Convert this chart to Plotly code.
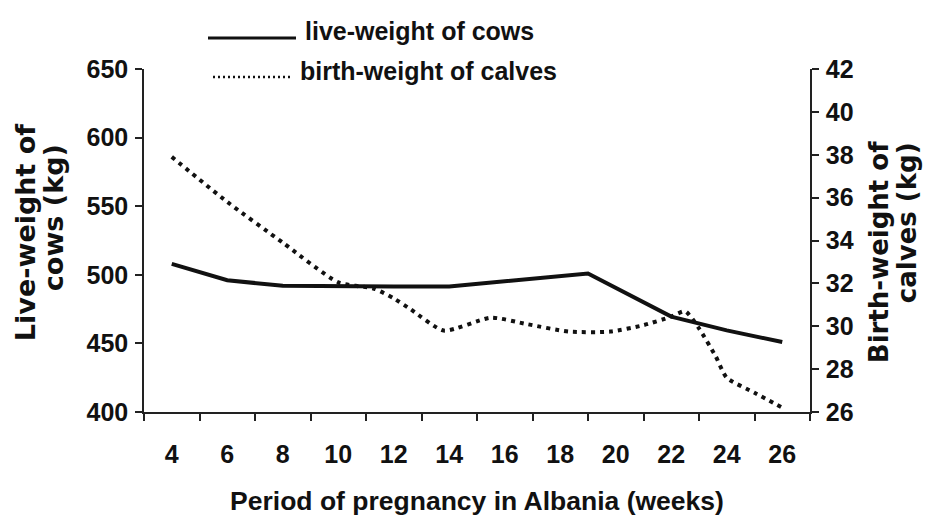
import plotly.graph_objects as go

# ---- data ----
cow_weeks = [4, 6, 8, 10, 12, 14, 16, 18, 19, 22, 24, 26]
cow_weight = [508, 496, 492, 491.5, 491.5, 491.5, 495.5, 499.5, 501, 469.5, 459.5, 451]

calf_weeks = [4, 6, 8, 10, 11.3, 12, 12.6, 13.8, 15.5, 16.8, 18.3, 19.8, 21, 22, 22.5, 23, 23.6, 24, 25, 26]
calf_weight = [37.9, 35.8, 33.9, 32.05, 31.75, 31.3, 30.8, 29.8, 30.4, 30.1, 29.75, 29.75, 30.05, 30.45, 30.7, 29.9, 28.6, 27.6, 26.9, 26.2]

x_tick_vals = [4, 6, 8, 10, 12, 14, 16, 18, 20, 22, 24, 26]
x_tick_text = [str(v) for v in x_tick_vals]
left_ticks = [400, 450, 500, 550, 600, 650]
right_ticks = [26, 28, 30, 32, 34, 36, 38, 40, 42]

FONT = "Liberation Sans, Arial, sans-serif"
TITLE_FONT = "DejaVu Sans, sans-serif"
INK = "#111111"

# plot area in page pixels (page has an 8px body margin)
PX0, PX1, PY0, PY1 = 144, 810, 69, 411.7
PW, PH = PX1 - PX0, PY1 - PY0


def px(x):
    return (x - PX0) / PW


def py(y):
    return 1 - (y - PY0) / PH


fig = go.Figure()
fig.add_trace(go.Scatter(x=cow_weeks, y=cow_weight, mode="lines",
                         line=dict(color=INK, width=4),
                         name="live-weight of cows", showlegend=False, yaxis="y"))
fig.add_trace(go.Scatter(x=calf_weeks, y=calf_weight, mode="lines",
                         line=dict(color=INK, width=4, dash="4px,5px", shape="spline", smoothing=0.6),
                         name="birth-weight of calves", showlegend=False, yaxis="y2"))

tickfont = dict(family=FONT, size=25, color=INK, weight="bold")

fig.update_layout(
    width=925, height=514,
    margin=dict(l=PX0 - 8, r=925 - (PX1 - 8), t=PY0 - 8, b=514 - (PY1 - 8)),
    paper_bgcolor="white", plot_bgcolor="white",
    xaxis=dict(range=[3, 27], tickvals=x_tick_vals, ticktext=x_tick_text, ticks="",
               showgrid=False, zeroline=False, showline=True, linecolor="#222", linewidth=1.5,
               tickfont=tickfont, ticklabelstandoff=19,
               minor=dict(ticks="outside", tick0=3, dtick=2, ticklen=7, tickcolor="#222", tickwidth=1.5, showgrid=False),
               title=dict(text="Period of pregnancy in Albania (weeks)",
                          font=dict(family=FONT, size=26.5, color=INK, weight="bold"), standoff=25)),
    xaxis2=dict(range=[3, 27], overlaying="x", anchor="y", side="bottom", showticklabels=False,
                showline=False, showgrid=False, zeroline=False, ticks="",
                minor=dict(ticks="inside", tick0=3, dtick=2, ticklen=7, tickcolor="#222", tickwidth=1.5, showgrid=False)),
    yaxis=dict(range=[400, 650], tickvals=left_ticks, ticks="outside", ticklen=7, tickwidth=1.5, tickcolor="#222",
               showgrid=False, zeroline=False, showline=True, linecolor="#222", linewidth=1.5,
               tickfont=tickfont, ticklabelstandoff=2),
    yaxis3=dict(range=[400, 650], overlaying="y", anchor="x", side="left", tickvals=left_ticks, ticks="inside",
                ticklen=7, tickwidth=1.5, tickcolor="#222", showticklabels=False,
                showgrid=False, zeroline=False, showline=False),
    yaxis2=dict(range=[26, 42], overlaying="y", anchor="x", side="right", tickvals=right_ticks,
                ticks="outside", ticklen=7, tickwidth=1.5, tickcolor="#222",
                showgrid=False, zeroline=False, showline=True, linecolor="#222", linewidth=1.5,
                tickfont=tickfont, ticklabelstandoff=2),
    yaxis4=dict(range=[26, 42], overlaying="y", anchor="x", side="right", tickvals=right_ticks, ticks="inside",
                ticklen=7, tickwidth=1.5, tickcolor="#222", showticklabels=False,
                showgrid=False, zeroline=False, showline=False),
)

title_font = dict(family=TITLE_FONT, size=27, color=INK, weight="bold")
# y-axis titles (two lines each)
for txt, xp, yp, fs in [("Live-weight of", 25, 233, 27), ("cows (kg)", 53, 218, 27),
                        ("Birth-weight of", 879, 252, 26), ("calves (kg)", 907, 223, 26)]:
    fig.add_annotation(text=txt, xref="paper", yref="paper",
                       x=px(xp), y=py(yp),
                       xanchor="center", yanchor="middle", textangle=-90,
                       showarrow=False, font=dict(family=TITLE_FONT, size=fs, color=INK, weight="bold"))

# legend (custom, top-left)
leg_font = dict(family=FONT, size=25, color=INK, weight="bold")
fig.add_shape(type="line", xref="paper", yref="paper",
              x0=px(208), x1=px(296), y0=py(38), y1=py(38),
              line=dict(color=INK, width=3))
fig.add_shape(type="line", xref="paper", yref="paper",
              x0=px(213), x1=px(293), y0=py(77), y1=py(77),
              line=dict(color=INK, width=2.5, dash="2px,3px"))
fig.add_annotation(text="live-weight of cows", xref="paper", yref="paper",
                   x=px(303), y=py(31), xanchor="left", yanchor="middle",
                   showarrow=False, font=leg_font)
fig.add_annotation(text="birth-weight of calves", xref="paper", yref="paper",
                   x=px(298), y=py(71), xanchor="left", yanchor="middle",
                   showarrow=False, font=leg_font)

fig.write_html("out.html")
